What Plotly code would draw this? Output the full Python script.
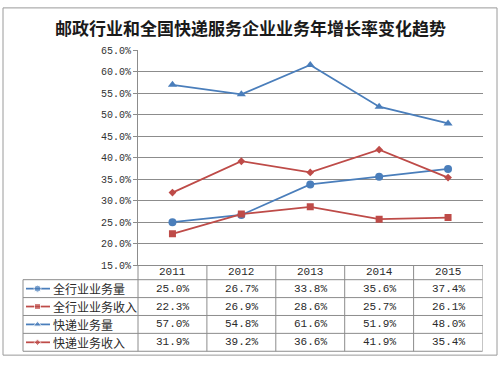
import plotly.graph_objects as go

years = ["2011", "2012", "2013", "2014", "2015"]
series_names = ["全行业业务量", "全行业业务收入", "快递业务量", "快递业务收入"]
all_volume = [25.0, 26.7, 33.8, 35.6, 37.4]
all_revenue = [22.3, 26.9, 28.6, 25.7, 26.1]
express_volume = [57.0, 54.8, 61.6, 51.9, 48.0]
express_revenue = [31.9, 39.2, 36.6, 41.9, 35.4]
y_ticks = [15, 20, 25, 30, 35, 40, 45, 50, 55, 60, 65]
title_text = "邮政行业和全国快递服务企业业务年增长率变化趋势"

W, H = 500, 366
BLUE = "#4A7EBB"
RED = "#BE4B48"
GRID = "#8C8C8C"
TXT = "#2a2a2a"
NUMFONT = "Liberation Mono"
CJK = "Noto Sans CJK SC"

def px(x):
    return x / W

def py(y):
    return 1 - y / H

series = [all_volume, all_revenue, express_volume, express_revenue]
colors = [BLUE, RED, BLUE, RED]
symbols = ["circle", "square", "triangle-up", "diamond"]
sizes = [8, 7, 8, 6]

fig = go.Figure()
for name, vals, c, s, sz in zip(series_names, series, colors, symbols, sizes):
    fig.add_trace(go.Scatter(
        x=list(range(len(years))), y=vals, name=name, mode="lines+markers",
        line=dict(color=c, width=1.75),
        marker=dict(color=c, symbol=s, size=sz),
        xaxis="x", yaxis="y", showlegend=False, hoverinfo="skip"))

# table geometry (pixels)
left_x, axis_x, right_x = 23, 138, 482.5
top_plot, axis_y = 47, 269
row_lines = [284, 302.5, 321, 339.5, 358]
header_c = (axis_y + row_lines[0]) / 2
row_c = [(row_lines[i] + row_lines[i + 1]) / 2 for i in range(4)]

shapes = []
shapes.append(dict(type="rect", xref="paper", yref="paper", x0=px(3), x1=px(497), y0=py(3), y1=py(362),
                   line=dict(color="#9A9A9A", width=1)))
for yv in row_lines:
    shapes.append(dict(type="line", xref="paper", yref="paper", x0=px(left_x), x1=px(right_x),
                       y0=py(yv), y1=py(yv), line=dict(color=GRID, width=1)))
shapes.append(dict(type="line", xref="paper", yref="paper", x0=px(left_x), x1=px(left_x),
                   y0=py(row_lines[0]), y1=py(row_lines[-1]), line=dict(color=GRID, width=1)))
shapes.append(dict(type="line", xref="paper", yref="paper", x0=px(axis_x), x1=px(axis_x),
                   y0=py(axis_y), y1=py(row_lines[-1]), line=dict(color=GRID, width=1)))
for i in range(1, len(years) + 1):
    shapes.append(dict(type="line", xref="x", yref="paper", x0=i - 0.5, x1=i - 0.5,
                       y0=py(axis_y), y1=py(row_lines[-1]), line=dict(color=GRID, width=1)))

annotations = []
annotations.append(dict(text="<b>" + title_text + "</b>", xref="paper", yref="paper", x=0.5, y=py(23),
                        showarrow=False, font=dict(family=CJK, size=17, color="#1a1a1a"),
                        xanchor="center", yanchor="middle"))
for i, yr in enumerate(years):
    annotations.append(dict(text=yr, xref="x", yref="paper", x=i, y=py(header_c), showarrow=False,
                            font=dict(family=NUMFONT, size=11, color=TXT), yanchor="middle"))
    for r, vals in enumerate(series):
        annotations.append(dict(text=f"{vals[i]:.1f}%", xref="x", yref="paper", x=i, y=py(row_c[r]),
                                showarrow=False, font=dict(family=NUMFONT, size=11, color=TXT),
                                yanchor="middle"))
for r, name in enumerate(series_names):
    annotations.append(dict(text=name, xref="paper", yref="paper", x=px(51), y=py(row_c[r]),
                            showarrow=False, xanchor="left", yanchor="middle",
                            font=dict(family=CJK, size=12, color=TXT)))
    fig.add_trace(go.Scatter(
        x=[26, 37.5, 50], y=[row_c[r]] * 3, mode="lines+markers",
        line=dict(color=colors[r], width=1.75),
        marker=dict(color=colors[r], symbol=symbols[r], size=[0, sizes[r] - 1, 0]),
        xaxis="x2", yaxis="y2", showlegend=False, hoverinfo="skip"))

fig.update_layout(
    width=W, height=H, margin=dict(l=0, r=0, t=0, b=0),
    paper_bgcolor="white", plot_bgcolor="rgba(0,0,0,0)",
    shapes=shapes, annotations=annotations,
    xaxis=dict(domain=[px(axis_x), px(right_x)], range=[-0.5, 4.5],
               showticklabels=False, ticks="", showgrid=False, zeroline=False,
               showline=True, linecolor=GRID, linewidth=1),
    yaxis=dict(domain=[py(axis_y), py(top_plot)], range=[15, 65], tickvals=y_ticks,
               ticktext=[f"{v:.1f}%" for v in y_ticks], showgrid=True, gridcolor=GRID, gridwidth=1,
               zeroline=False, showline=True, linecolor=GRID, linewidth=1,
               ticks="outside", ticklen=4, tickcolor=GRID,
               tickfont=dict(family=NUMFONT, size=10, color="#333333")),
    xaxis2=dict(domain=[0, 1], range=[0, W], visible=False, anchor="y2"),
    yaxis2=dict(domain=[0, 1], range=[H, 0], visible=False, anchor="x2"),
)

fig.write_html("out.html", config={"displayModeBar": False},
               post_script="document.body.style.margin='0';")
